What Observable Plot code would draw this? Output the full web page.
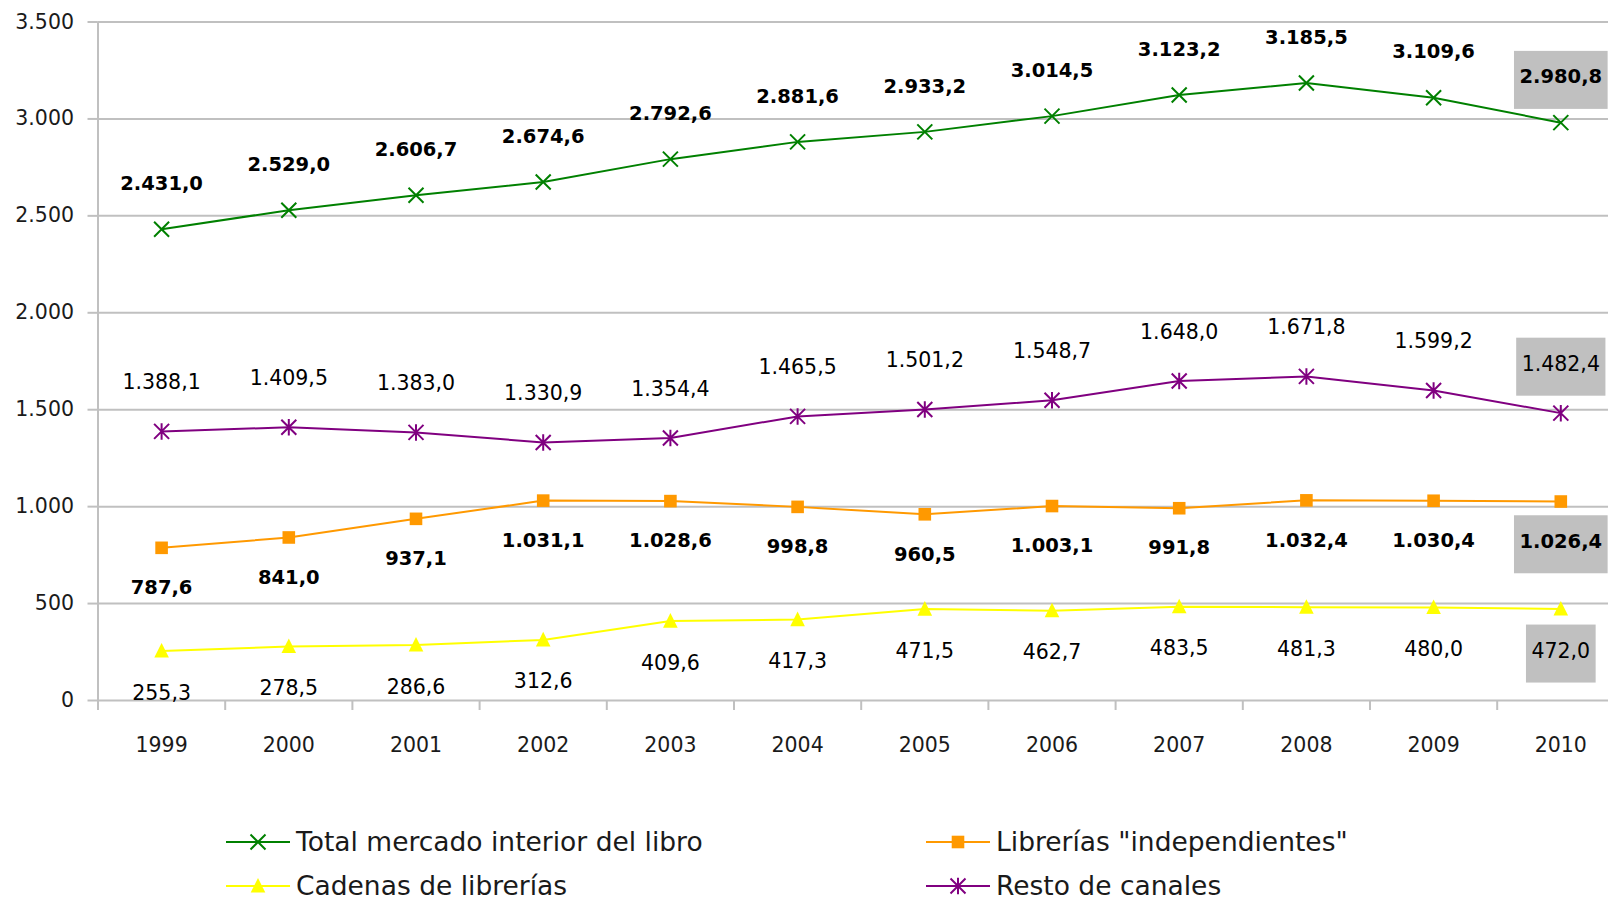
<!DOCTYPE html>
<html><head><meta charset="utf-8">
<script src="https://cdn.jsdelivr.net/npm/d3@7"></script>
<script src="https://cdn.jsdelivr.net/npm/@observablehq/plot@0.6"></script>
<style>
html,body{margin:0;padding:0;background:#fff;overflow:hidden;width:1608px;height:902px}
#chart svg{display:block}
#legend{position:relative;height:112px;font-family:"DejaVu Sans",sans-serif;font-size:26.5px;color:#1a1a1a}
.item{position:absolute;display:flex;align-items:center;height:32px;line-height:32px;white-space:nowrap}
.item svg{display:block;margin-right:6px}
</style></head><body><div id="chart"></div><div id="legend"></div>
<script>
const years = [1999, 2000, 2001, 2002, 2003, 2004, 2005, 2006, 2007, 2008, 2009, 2010];
const totalMercado = [2431.0, 2529.0, 2606.7, 2674.6, 2792.6, 2881.6, 2933.2, 3014.5, 3123.2, 3185.5, 3109.6, 2980.8];
const libreriasIndependientes = [787.6, 841.0, 937.1, 1031.1, 1028.6, 998.8, 960.5, 1003.1, 991.8, 1032.4, 1030.4, 1026.4];
const cadenasLibrerias = [255.3, 278.5, 286.6, 312.6, 409.6, 417.3, 471.5, 462.7, 483.5, 481.3, 480.0, 472.0];
const restoCanales = [1388.1, 1409.5, 1383.0, 1330.9, 1354.4, 1465.5, 1501.2, 1548.7, 1648.0, 1671.8, 1599.2, 1482.4];
const seriesNames = ["Total mercado interior del libro", "Librerías \"independientes\"", "Cadenas de librerías", "Resto de canales"];
const yTicks = [0, 500, 1000, 1500, 2000, 2500, 3000, 3500];

const es = d3.formatLocale({decimal: ",", thousands: ".", grouping: [3], currency: ["", " €"]});
const fmt1 = es.format(",.1f");
const fmtInt = es.format(",");

// custom symbols: r (from Plot's size = PI r^2) is the half-size
const half = size => Math.sqrt(size / Math.PI);
const symTimes = {draw(c, s) { const r = half(s); c.moveTo(-r, -r); c.lineTo(r, r); c.moveTo(-r, r); c.lineTo(r, -r); }};
const symStar = {draw(c, s) { const r = half(s); c.moveTo(-r, -r); c.lineTo(r, r); c.moveTo(-r, r); c.lineTo(r, -r); c.moveTo(0, -r * 1.1); c.lineTo(0, r * 1.1); }};
const symSquare = {draw(c, s) { const r = half(s); c.rect(-r, -r, 2 * r, 2 * r); }};
const symTri = {draw(c, s) { const r = half(s); c.moveTo(0, -r * 1.1); c.lineTo(r, r * 0.9); c.lineTo(-r, r * 0.9); c.closePath(); }};

const series = [
  {name: seriesNames[0], values: totalMercado, color: "#008000", symbol: symTimes, r: 7.5, filled: false, bold: true, dy: -45.5},
  {name: seriesNames[1], values: libreriasIndependientes, color: "#ff9900", symbol: symSquare, r: 6.3, filled: true, bold: true, dy: 40},
  {name: seriesNames[2], values: cadenasLibrerias, color: "#ffff00", symbol: symTri, r: 7.3, filled: true, bold: false, dy: 42},
  {name: seriesNames[3], values: restoCanales, color: "#800080", symbol: symStar, r: 7.5, filled: false, bold: false, dy: -49}
];

const gray = "#c0c0c0";
const ink = "#1a1a1a";
const lastYear = years[years.length - 1];
const boundaries = years.map(y => y - 0.5).concat([lastYear + 0.5]);

const marks = [
  Plot.gridY(yTicks, {stroke: gray, strokeOpacity: 1, strokeWidth: 2}),
  Plot.ruleX([years[0] - 0.5], {stroke: gray, strokeWidth: 2}),
  Plot.axisY(yTicks, {tickSize: 10, tickPadding: 14, tickFormat: fmtInt, fontSize: 20.5, fill: ink, stroke: gray, strokeWidth: 2, strokeOpacity: 1, label: null}),
  Plot.axisX(boundaries, {tickSize: 10, tickFormat: () => "", stroke: gray, strokeWidth: 2, strokeOpacity: 1, label: null}),
  Plot.axisX(years, {tickSize: 0, tickPadding: 37, tickFormat: d => `${d}`, fontSize: 20.5, fill: ink, label: null})
];

for (const s of series) {
  const rows = years.map((year, i) => ({year, value: s.values[i]}));
  marks.push(Plot.line(rows, {x: "year", y: "value", stroke: s.color, strokeWidth: 2}));
  marks.push(Plot.dot(rows, {x: "year", y: "value", symbol: s.symbol, r: s.r,
    fill: s.filled ? s.color : "none", stroke: s.filled ? "none" : s.color, strokeWidth: 2}));
  const textOpts = {x: "year", y: "value", text: d => fmt1(d.value), dy: s.dy, fill: "#000",
    fontSize: s.bold ? 19.5 : 20.5, fontWeight: s.bold ? "bold" : "normal"};
  marks.push(Plot.text(rows.filter(d => d.year !== lastYear), textOpts));
  marks.push(Plot.text(rows.filter(d => d.year === lastYear), {...textOpts, className: "hl"}));
}

const chart = Plot.plot({
  width: 1608,
  height: 790,
  marginTop: 21.5,
  marginBottom: 90,
  marginLeft: 97.5,
  marginRight: 0,
  x: {type: "linear", domain: [1998.5, 2010.375], axis: null},
  y: {domain: [0, 3500], axis: null},
  style: {fontFamily: "DejaVu Sans, sans-serif", fontSize: "20px", color: ink, background: "#fff", overflow: "hidden"},
  marks
});
document.getElementById("chart").appendChild(chart);

// gray highlight boxes behind the 2010 labels
const NS = "http://www.w3.org/2000/svg";
chart.querySelectorAll("g.hl text").forEach(t => {
  const b = t.getBBox();
  const rect = document.createElementNS(NS, "rect");
  rect.setAttribute("x", b.x - 5.5);
  rect.setAttribute("width", b.width + 11);
  rect.setAttribute("y", b.y + b.height / 2 + 3 - 29);
  rect.setAttribute("height", 58);
  rect.setAttribute("fill", gray);
  if (t.getAttribute("transform")) rect.setAttribute("transform", t.getAttribute("transform"));
  t.parentNode.insertBefore(rect, t);
});

// legend
const legend = document.getElementById("legend");
const legendPos = [[226, 52], [926, 52], [226, 95.5], [926, 95.5]];
series.forEach((s, i) => {
  const item = document.createElement("div");
  item.className = "item";
  item.style.left = legendPos[i][0] + "px";
  item.style.top = (legendPos[i][1] - 16) + "px";
  const svg = d3.create("svg").attr("width", 64).attr("height", 24);
  svg.append("line").attr("x1", 0).attr("x2", 64).attr("y1", 12).attr("y2", 12).attr("stroke", s.color).attr("stroke-width", 2);
  const p = d3.path();
  s.symbol.draw(p, Math.PI * s.r * s.r);
  svg.append("path").attr("d", p.toString()).attr("transform", "translate(32,12)")
    .attr("fill", s.filled ? s.color : "none").attr("stroke", s.filled ? "none" : s.color).attr("stroke-width", 2);
  item.appendChild(svg.node());
  const span = document.createElement("span");
  span.textContent = s.name;
  item.appendChild(span);
  legend.appendChild(item);
});
</script></body></html>
